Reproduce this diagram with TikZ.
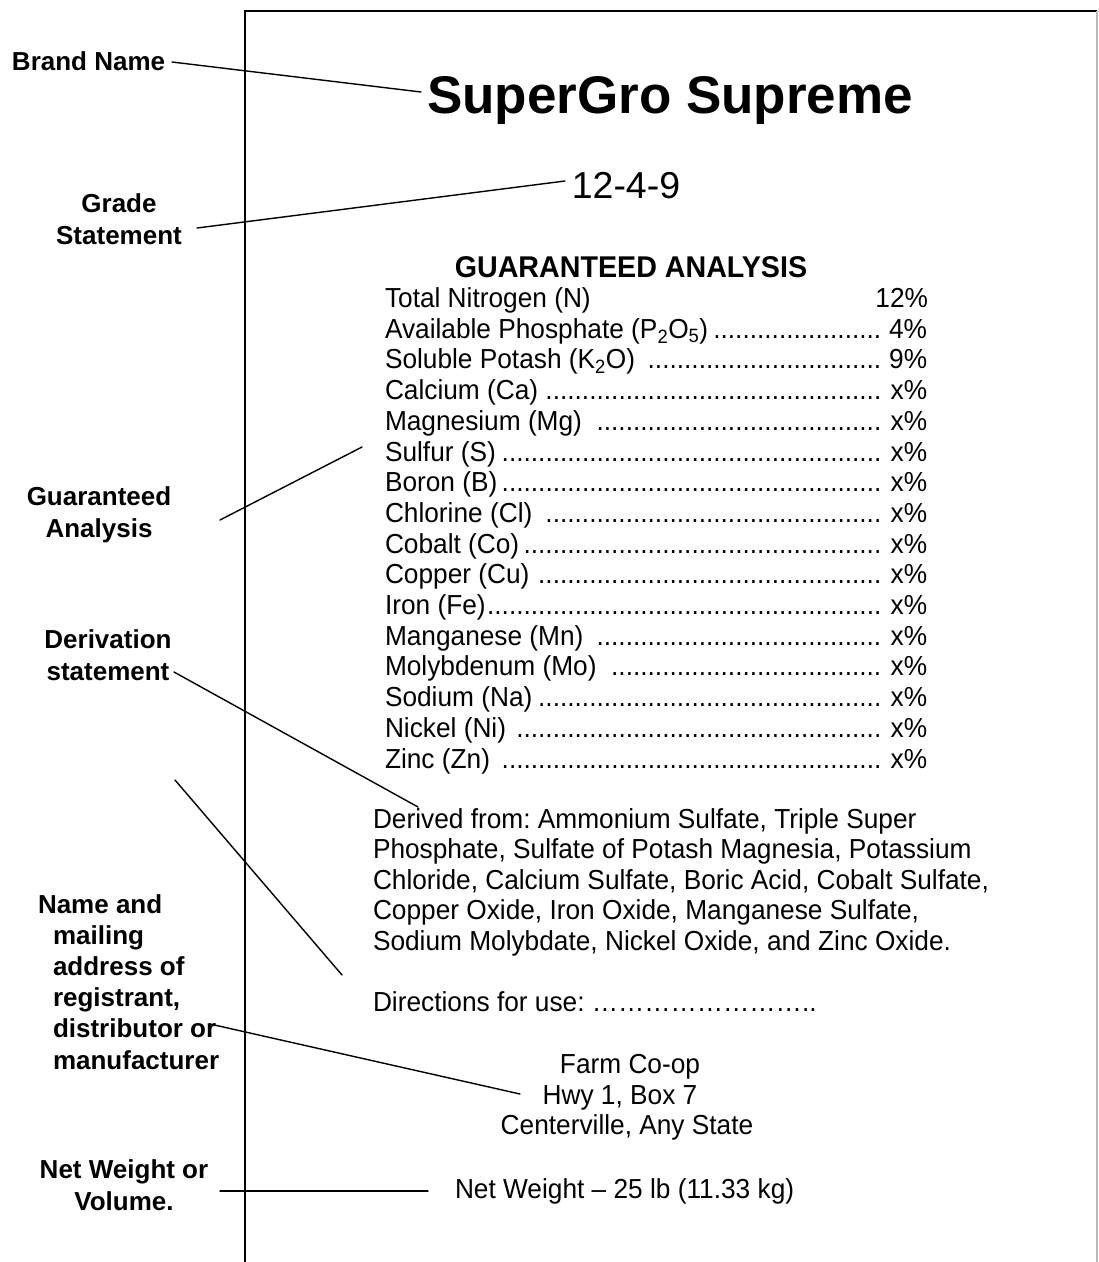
\documentclass[tikz,border=0pt]{standalone}
\usepackage{fontspec}
\setmainfont{Liberation Sans}
\newfontfamily\narrowsans[FakeStretch=0.955]{Liberation Sans}
\frenchspacing
\newcommand{\lbody}{\narrowsans\fontsize{27.5}{30.7}\selectfont}
\newcommand{\lbold}{\fontsize{26}{31.2}\selectfont\bfseries}
\newcommand{\leadfill}{\leaders\hbox{.}\hfill}
\newcommand{\arow}[2]{\hbox to 542pt{#1\leadfill\ #2}}
\begin{document}
\begin{tikzpicture}[x=1pt,y=-1pt,
  txt/.style={inner sep=0pt,outer sep=0pt,font=\lbody},
  lbl/.style={inner sep=0pt,outer sep=0pt,font=\lbold,align=center},
  conn/.style={line width=1.4pt,line cap=round}]
\useasboundingbox (0,0) rectangle (1099,1262);
\fill[white] (0,0) rectangle (1099,1262);
% label frame
\draw[line width=1.6pt] (245,1262) -- (245,11) -- (1097,11);
\draw[gray!55,line width=1.6pt] (1097,11) -- (1097,1262);

% title block
\node[txt,anchor=base,font=\fontsize{53}{60}\selectfont\bfseries] (title) at (670,113) {SuperGro Supreme};
\node[txt,anchor=base,font=\fontsize{37.5}{44}\selectfont] (grade) at (626,198) {12-4-9};
\node[txt,anchor=base,font=\narrowsans\fontsize{30}{34}\selectfont\bfseries] (ga) at (631,277) {GUARANTEED ANALYSIS};

% analysis rows
\node[txt,anchor=base west] (r1) at (385,307.5) {\hbox to 543pt{Total Nitrogen (N)\hfill 12\%}};
\node[txt,anchor=base west] (r2) at (385,338.2) {\arow{Available Phosphate (P\textsubscript{2}O\textsubscript{5})}{4\%}};
\node[txt,anchor=base west] (r3) at (385,368.9) {\arow{Soluble Potash (K\textsubscript{2}O) }{9\%}};
\node[txt,anchor=base west] (r4) at (385,399.6) {\arow{Calcium (Ca) }{x\%}};
\node[txt,anchor=base west] (r5) at (385,430.3) {\arow{Magnesium (Mg) }{x\%}};
\node[txt,anchor=base west] (r6) at (385,461.0) {\arow{Sulfur (S)}{x\%}};
\node[txt,anchor=base west] (r7) at (385,491.7) {\arow{Boron (B)}{x\%}};
\node[txt,anchor=base west] (r8) at (385,522.4) {\arow{Chlorine (Cl) }{x\%}};
\node[txt,anchor=base west] (r9) at (385,553.1) {\arow{Cobalt (Co)}{x\%}};
\node[txt,anchor=base west] (r10) at (385,583.8) {\arow{Copper (Cu) }{x\%}};
\node[txt,anchor=base west] (r11) at (385,614.5) {\arow{Iron (Fe)}{x\%}};
\node[txt,anchor=base west] (r12) at (385,645.2) {\arow{Manganese (Mn) }{x\%}};
\node[txt,anchor=base west] (r13) at (385,675.9) {\arow{Molybdenum (Mo) }{x\%}};
\node[txt,anchor=base west] (r14) at (385,706.6) {\arow{Sodium (Na)}{x\%}};
\node[txt,anchor=base west] (r15) at (385,737.3) {\arow{Nickel (Ni) }{x\%}};
\node[txt,anchor=base west] (r16) at (385,768.0) {\arow{Zinc (Zn) }{x\%}};

% derivation
\node[txt,anchor=base west] (d1) at (373,828) {Derived from: Ammonium Sulfate, Triple Super};
\node[txt,anchor=base west] (d2) at (373,858.5) {Phosphate, Sulfate of Potash Magnesia, Potassium};
\node[txt,anchor=base west] (d3) at (373,889) {Chloride, Calcium Sulfate, Boric Acid, Cobalt Sulfate,};
\node[txt,anchor=base west] (d4) at (373,919.5) {Copper Oxide, Iron Oxide, Manganese Sulfate,};
\node[txt,anchor=base west] (d5) at (373,950) {Sodium Molybdate, Nickel Oxide, and Zinc Oxide.};

\node[txt,anchor=base west] (dir) at (373,1011) {Directions for use: ……………………..};

\node[txt,anchor=base] (a1) at (630,1073) {Farm Co-op};
\node[txt,anchor=base] (a2) at (620,1104) {Hwy 1, Box 7};
\node[txt,anchor=base] (a3) at (627,1134) {Centerville, Any State};

\node[txt,anchor=base west] (nw) at (455,1198) {Net Weight – 25 lb (11.33 kg)};

% side labels (base = baseline of last line)
\node[lbl,anchor=base west] (lbrand) at (12,70) {Brand Name};
\node[lbl,anchor=base] (lgrade) at (119,244) {Grade\\Statement};
\node[lbl,anchor=base] (lga) at (99,537) {Guaranteed\\Analysis};
\node[lbl,anchor=base] (lder) at (108,680) {Derivation\\statement};
\node[lbl,anchor=base west,align=left] (lname) at (38,1069) {Name and\\\hspace*{15pt}mailing\\\hspace*{15pt}address of\\\hspace*{15pt}registrant,\\\hspace*{15pt}distributor or\\\hspace*{15pt}manufacturer};
\node[lbl,anchor=base] (lnet) at (124,1210) {Net Weight or\\Volume.};

% connector end points
\coordinate (cbrandA) at (172,62);  \coordinate (cbrandB) at (421,92);
\coordinate (cgradeA) at (197,228); \coordinate (cgradeB) at (565,181);
\coordinate (cgaA) at (220,520);    \coordinate (cgaB) at (362,447);
\coordinate (cderA) at (174,672);   \coordinate (cderB) at (418,807);
\coordinate (cdirA) at (175,780);   \coordinate (cdirB) at (342,975);
\coordinate (cnameA) at (210,1024); \coordinate (cnameB) at (520,1094);
\coordinate (cnetA) at (220,1191);  \coordinate (cnetB) at (428,1191);

\draw[conn] (cbrandA) -- (cbrandB);
\draw[conn] (cgradeA) -- (cgradeB);
\draw[conn] (cgaA) -- (cgaB);
\draw[conn] (cderA) -- (cderB);
\draw[conn] (cdirA) -- (cdirB);
\draw[conn] (cnameA) -- (cnameB);
\draw[conn] (cnetA) -- (cnetB);
\end{tikzpicture}
\end{document}
